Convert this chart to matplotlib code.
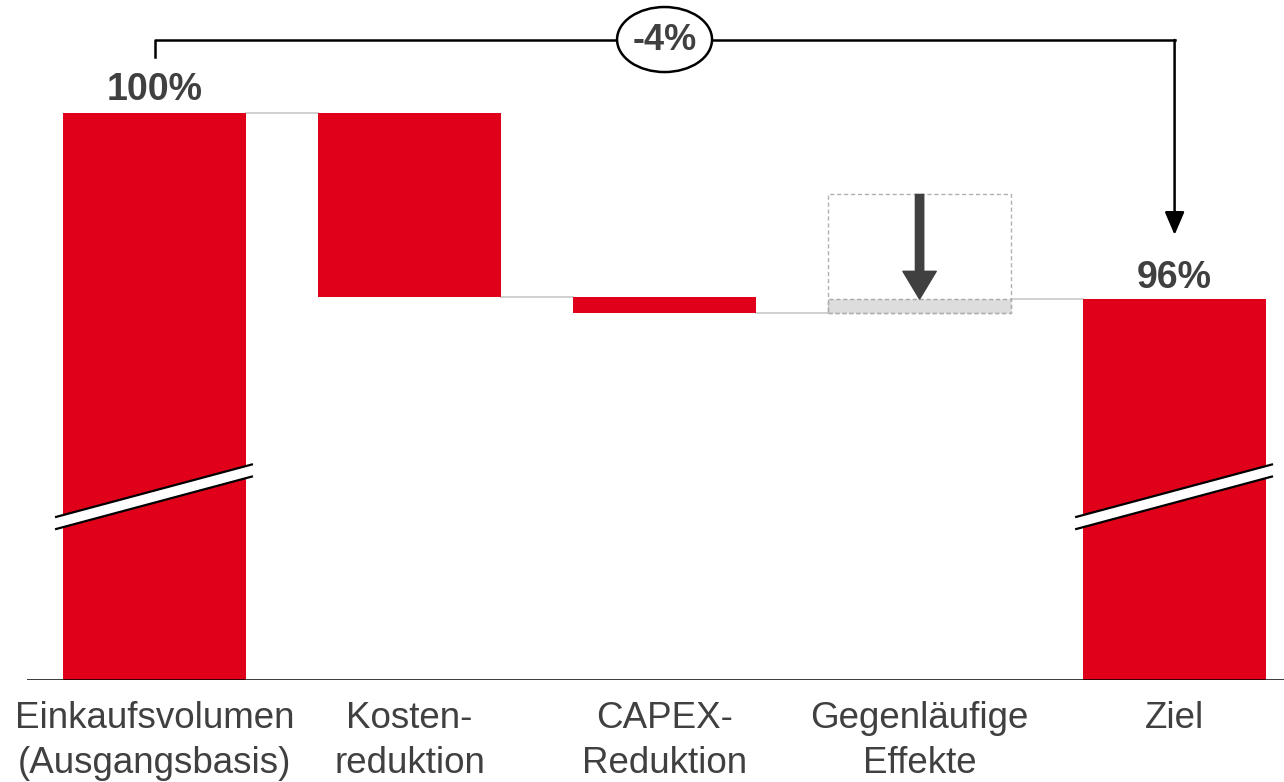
import matplotlib
matplotlib.use("Agg")
import matplotlib.pyplot as plt
from matplotlib.patches import Ellipse, Polygon, Rectangle

# --- data -------------------------------------------------------------
categories = ["Einkaufsvolumen\n(Ausgangsbasis)", "Kosten-\nreduktion", "CAPEX-\nReduktion",
              "Gegenläufige\nEffekte", "Ziel"]
start_value = 100.0
deltas = [-3.95, -0.35, 0.30]          # Kosten, CAPEX, Gegenläufige
end_value = 96.0
gegen_potential_top = 98.25            # oberer Rand der gestrichelten Box
total_label = "-4%"
start_label = "100%"
end_label = "96%"

RED = "#E0001A"
DARK = "#404040"
LINE_GREY = "#D0D0D0"

plt.rcParams["font.family"] = ["Liberation Sans", "DejaVu Sans"]

fig = plt.figure(figsize=(12.84, 7.82), dpi=100)
ax = fig.add_axes([27 / 1284, 102 / 782, 1 - 27 / 1284, 680 / 782])
y_floor = 87.81
ax.set_xlim(-0.5, 4.429)
ax.set_ylim(y_floor, 102.43)
for s in ax.spines.values():
    s.set_visible(False)
ax.axhline(y_floor, color="black", lw=1.8, zorder=5)

w = 0.72
# Start- und Zielbalken
ax.bar(0, start_value - y_floor, bottom=y_floor, width=w, color=RED, zorder=2)
ax.bar(4, end_value - y_floor, bottom=y_floor, width=w, color=RED, zorder=2)

# Zwischenschritte
levels = [start_value]
for d in deltas:
    levels.append(levels[-1] + d)
for i, d in enumerate(deltas):
    lo = min(levels[i], levels[i + 1])
    x = i + 1
    if d < 0:
        ax.bar(x, abs(d), bottom=lo, width=w, color=RED, zorder=2)
    else:
        ax.bar(x, abs(d), bottom=lo, width=w, color="#DDDDDD", edgecolor="#A8A8A8",
               linestyle=(0, (3, 2)), lw=1.0, zorder=2)
        # gestrichelte Box + Pfeil
        ax.add_patch(Rectangle((x - w / 2, levels[i]), w, gegen_potential_top - levels[i],
                               fill=False, edgecolor="#B0B0B0", linestyle=(0, (3, 2)), lw=1.0,
                               zorder=3))
        ax.annotate("", xy=(x, levels[i + 1]), xytext=(x, gegen_potential_top),
                    arrowprops=dict(arrowstyle="simple,head_length=1.0,head_width=1.2,tail_width=0.3",
                                    mutation_scale=20, color=DARK, shrinkA=0, shrinkB=0),
                    zorder=4)

# Verbindungslinien (Stand nach jedem Balken)
for i in range(4):
    ax.plot([i + w / 2, i + 1 - w / 2], [levels[i]] * 2, color=LINE_GREY, lw=1.4, zorder=1)

# Achsenbruch
def axis_break(xc):
    x0, x1 = xc - 0.39, xc + 0.386
    up0, up1 = 91.31, 92.45
    gap = 0.26
    ax.add_patch(Polygon([(x0, up0), (x1, up1), (x1, up1 - gap), (x0, up0 - gap)],
                         closed=True, facecolor="white", edgecolor="none", zorder=6))
    ax.plot([x0, x1], [up0, up1], color="black", lw=1.6, zorder=7, solid_capstyle="butt")
    ax.plot([x0, x1], [up0 - gap, up1 - gap], color="black", lw=1.6, zorder=7,
            solid_capstyle="butt")

axis_break(0)
axis_break(4)

# Werte
ax.text(0, 100.28, start_label, ha="center", va="baseline", fontsize=27, fontweight="bold",
        color=DARK)
ax.text(4, 96.24, end_label, ha="center", va="baseline", fontsize=27, fontweight="bold",
        color=DARK)

# Klammer oben mit -4%
yb = 101.57
ax.plot([0, 0, 4], [101.2, yb, yb], color="black", lw=1.8, zorder=3)
ax.annotate("", xy=(4, 97.38), xytext=(4, yb),
            arrowprops=dict(arrowstyle="-|>,head_length=0.7,head_width=0.3", mutation_scale=20,
                            color="black", lw=1.8, shrinkA=0, shrinkB=0))
ax.add_patch(Ellipse((2, 101.58), 0.3725, 1.398, facecolor="white", edgecolor="black",
                     lw=1.8, zorder=4, clip_on=False))
ax.text(2, 101.55, total_label, ha="center", va="center", fontsize=26, fontweight="bold",
        color=DARK, zorder=5)

ax.set_yticks([])
ax.set_xticks(range(len(categories)))
ax.set_xticklabels(categories, fontsize=26.5, color=DARK, linespacing=1.38)
ax.tick_params(axis="x", length=0, pad=15)

fig.savefig("out.png", dpi=100)
